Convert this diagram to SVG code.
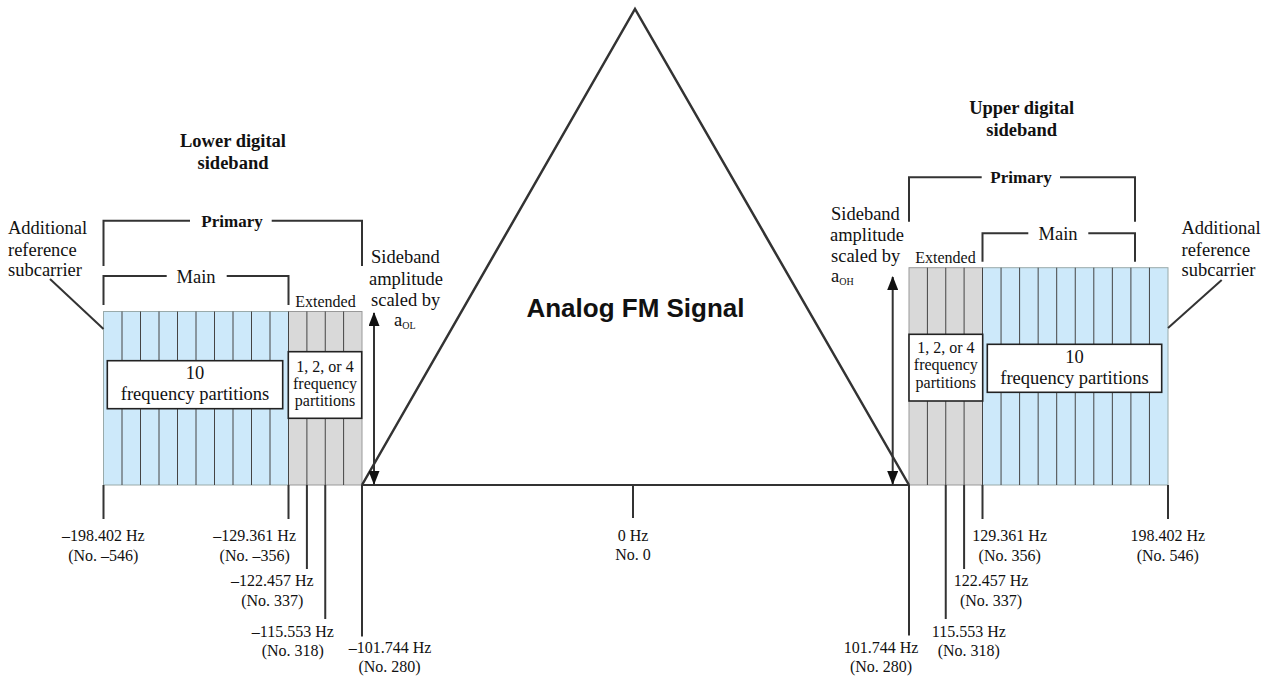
<svg xmlns="http://www.w3.org/2000/svg" width="1277" height="680" viewBox="0 0 1277 680">
<style>
.t{font-family:"Liberation Serif","Times New Roman",serif;fill:#111}
.s18{font-size:18.5px}
.s16{font-size:16px}
.b{font-weight:bold}
.c{text-anchor:middle}
.ln{stroke:#333;stroke-width:2;fill:none}
.col{stroke:#444;stroke-width:1;fill:none}
.blue{fill:#cde9fa;stroke:#9aa;stroke-width:1}
.gray{fill:#d9d9d9;stroke:#999;stroke-width:1}
.box{fill:#fff;stroke:#222;stroke-width:1.6}
</style>
<defs>
<marker id="ah" viewBox="0 0 14 11" markerWidth="14" markerHeight="11" refX="13" refY="5.5" orient="auto-start-reverse" markerUnits="userSpaceOnUse">
<path d="M0,0 L14,5.5 L0,11 z" fill="#111"/>
</marker>
</defs>
<rect width="1277" height="680" fill="#fff"/>

<g id="lower-sideband">
<rect class="blue" x="103.5" y="311.5" width="185" height="173.5"/>
<rect class="gray" x="288.5" y="311.5" width="73.5" height="173.5"/>
<path class="col" d="M122,311.5V485M140.5,311.5V485M159,311.5V485M177.5,311.5V485M196,311.5V485M214.5,311.5V485M233,311.5V485M251.5,311.5V485M270,311.5V485M288.5,311.5V485M306.9,311.5V485M325.25,311.5V485M343.6,311.5V485"/>
<rect class="box" x="107.3" y="360.7" width="175.4" height="48"/>
<text class="t s18 c" x="195" y="379">10</text>
<text class="t s18 c" x="195" y="400">frequency partitions</text>
<rect class="box" x="288.3" y="351.7" width="73.4" height="66.6"/>
<text class="t s16 c" x="325" y="372">1, 2, or 4</text>
<text class="t s16 c" x="325" y="389">frequency</text>
<text class="t s16 c" x="325" y="406">partitions</text>
<text class="t s18 b c" x="233" y="147">Lower digital</text>
<text class="t s18 b c" x="233" y="169">sideband</text>
<text class="t s18 b c" x="232" y="226.5" style="font-size:17px">Primary</text>
<text class="t s18 c" x="196" y="282.5">Main</text>
<text class="t s16 c" x="325.5" y="307">Extended</text>
<text class="t s18" x="8" y="234">Additional</text>
<text class="t s18" x="8" y="255.5">reference</text>
<text class="t s18" x="8" y="276">subcarrier</text>
<text class="t s18" x="371" y="263">Sideband</text>
<text class="t s18" x="369" y="284.5">amplitude</text>
<text class="t s18" x="371" y="306">scaled by</text>
<text class="t s18" x="394" y="326">a<tspan style="font-size:10px" dy="3">OL</tspan></text>
</g>

<g id="upper-sideband">
<rect class="gray" x="909" y="267.7" width="73.5" height="217.3"/>
<rect class="blue" x="982.5" y="267.7" width="185.5" height="217.3"/>
<path class="col" d="M927.4,267.7V485M945.75,267.7V485M964.1,267.7V485M982.5,267.7V485M1001.05,267.7V485M1019.6,267.7V485M1038.15,267.7V485M1056.7,267.7V485M1075.25,267.7V485M1093.8,267.7V485M1112.35,267.7V485M1130.9,267.7V485M1149.45,267.7V485"/>
<rect class="box" x="909" y="334.3" width="73.7" height="66.7"/>
<text class="t s16 c" x="945.8" y="352.7">1, 2, or 4</text>
<text class="t s16 c" x="945.8" y="370">frequency</text>
<text class="t s16 c" x="945.8" y="387.5">partitions</text>
<rect class="box" x="987.3" y="344.3" width="174.4" height="48"/>
<text class="t s18 c" x="1074.5" y="363">10</text>
<text class="t s18 c" x="1074.5" y="383.5">frequency partitions</text>
<text class="t s18 b c" x="1021.7" y="114">Upper digital</text>
<text class="t s18 b c" x="1021.7" y="135.5">sideband</text>
<text class="t s18 b c" x="1021" y="183" style="font-size:17px">Primary</text>
<text class="t s18 c" x="1058" y="239.5">Main</text>
<text class="t s16 c" x="945.5" y="263">Extended</text>
<text class="t s18" x="1181.5" y="234">Additional</text>
<text class="t s18" x="1181.5" y="255.5">reference</text>
<text class="t s18" x="1181.5" y="276">subcarrier</text>
<text class="t s18" x="831" y="220">Sideband</text>
<text class="t s18" x="830" y="241">amplitude</text>
<text class="t s18" x="831" y="262">scaled by</text>
<text class="t s18" x="831" y="282">a<tspan style="font-size:10px" dy="3">OH</tspan></text>
</g>

<g id="analog-fm">
<path d="M362,485 L635,9 L909,485" fill="none" stroke="#333" stroke-width="2.5" stroke-linejoin="miter"/>
<text x="635.5" y="316.5" text-anchor="middle" style="font-family:'Liberation Sans',Arial,sans-serif;font-weight:bold;font-size:26px;fill:#111">Analog FM Signal</text>
</g>

<g id="connectors">
<path class="ln" d="M362,485H909" stroke-width="2.5"/>
<path class="ln" d="M103.5,266V220.7H190M271.7,220.7H362V266"/>
<path class="ln" d="M103.5,305V276H166.7M226.7,276H288.5V305"/>
<path class="ln" d="M909,221.7V177.3H981.7M1060,177.3H1135V221.7"/>
<path class="ln" d="M982.5,261.7V233.3H1028.3M1088.3,233.3H1135V261.7"/>
<path class="ln" d="M50,279L103.5,329"/>
<path class="ln" d="M1221.7,280L1168,328"/>
<path class="ln" d="M374,313V484" marker-start="url(#ah)" marker-end="url(#ah)"/>
<path class="ln" d="M892.7,277V484" marker-start="url(#ah)" marker-end="url(#ah)"/>
<path class="ln" d="M103.5,485V519M288.5,485V519M306.9,485V569M325.25,485V619M362,485V636.5M633,485V518M909,485V635.5M945.75,485V619M964.1,485V569M982.5,485V519M1168,485V519"/>
</g>

<g id="freq-labels">
<text class="t s16 c" x="103.3" y="540.5">–198.402 Hz</text>
<text class="t s16 c" x="103.3" y="560.5">(No. –546)</text>
<text class="t s16 c" x="254.7" y="540.5">–129.361 Hz</text>
<text class="t s16 c" x="254.7" y="560.5">(No. –356)</text>
<text class="t s16 c" x="272.3" y="585.5">–122.457 Hz</text>
<text class="t s16 c" x="272.3" y="605.5">(No. 337)</text>
<text class="t s16 c" x="292.8" y="637">–115.553 Hz</text>
<text class="t s16 c" x="292.8" y="656">(No. 318)</text>
<text class="t s16 c" x="390" y="653">–101.744 Hz</text>
<text class="t s16 c" x="389.5" y="671.5">(No. 280)</text>
<text class="t s16 c" x="633" y="541">0 Hz</text>
<text class="t s16 c" x="633" y="559.5">No. 0</text>
<text class="t s16 c" x="881" y="653">101.744 Hz</text>
<text class="t s16 c" x="881" y="671.5">(No. 280)</text>
<text class="t s16 c" x="968.8" y="637">115.553 Hz</text>
<text class="t s16 c" x="968.8" y="656">(No. 318)</text>
<text class="t s16 c" x="991" y="585.5">122.457 Hz</text>
<text class="t s16 c" x="991" y="605.5">(No. 337)</text>
<text class="t s16 c" x="1009.7" y="540.5">129.361 Hz</text>
<text class="t s16 c" x="1009.7" y="560.5">(No. 356)</text>
<text class="t s16 c" x="1167.8" y="540.5">198.402 Hz</text>
<text class="t s16 c" x="1167.8" y="560.5">(No. 546)</text>
</g>
</svg>
